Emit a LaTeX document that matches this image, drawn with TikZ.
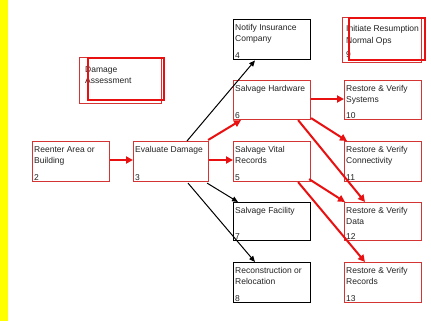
\documentclass[tikz,border=0pt]{standalone}
\usepackage{fontspec}
\setmainfont{Liberation Sans}
\usetikzlibrary{arrows.meta,calc}
\definecolor{ared}{RGB}{232,16,16}
\definecolor{bred}{RGB}{212,52,52}
\definecolor{txt}{RGB}{35,35,35}
\definecolor{ylw}{RGB}{255,255,0}
\begin{document}
\begin{tikzpicture}[x=1pt,y=-1pt,
  rbox/.style={draw=bred, line width=1.1pt, rectangle, inner sep=0pt, anchor=north west, minimum width=77pt, minimum height=39pt},
  kbox/.style={draw=black, line width=1.4pt, rectangle, inner sep=0pt, anchor=north west, minimum width=77pt, minimum height=39pt},
  lab/.style={anchor=north west, inner sep=0pt, align=left, font=\fontsize{8.5}{11.5}\selectfont, text=txt},
  num/.style={anchor=south west, inner sep=0pt, font=\fontsize{8.5}{11.5}\selectfont, text=txt},
  thinframe/.style={draw=bred, line width=0.9pt, rectangle, inner sep=0pt, anchor=north west},
  thickframe/.style={draw=ared, line width=2.2pt, rectangle, inner sep=0pt, anchor=north west},
  rarr/.style={draw=ared, line width=2pt, -{Triangle[length=7pt,width=7pt]}},
  karr/.style={draw=black, line width=1pt, -{Triangle[length=6pt,width=5pt]}},
]
\useasboundingbox (0,0) rectangle (431,321);
\fill[white] (0,0) rectangle (431,321);
\fill[ylw] (0,0) rectangle (8,321);

% Damage Assessment
\node[thinframe, minimum width=82pt, minimum height=46pt] (dao) at (79,57) {};
\node[lab] (dat) at (85,66) {Damage\\Assessment};
\node[thickframe, minimum width=76pt, minimum height=42pt] (dai) at (87,57) {};

% Initiate Resumption
\node[thinframe, minimum width=79pt, minimum height=45pt] (n9o) at (342,17) {};
\node[lab] (n9t) at (346,25.5) {Initiate Resumption\\Normal Ops};
\node[num] (n9n) at (346,58) {9};
\node[thickframe, minimum width=76pt, minimum height=42pt] (n9i) at (348,17) {};

% boxes
\node[rbox, minimum height=40pt] (n2) at (32,141) {};
\node[rbox, minimum width=75pt, minimum height=40pt] (n3) at (133,141) {};
\node[kbox, minimum height=40pt] (n4) at (233,19) {};
\node[rbox] (n6) at (233,80) {};
\node[rbox, minimum height=40pt] (n5) at (233,141) {};
\node[kbox, minimum height=38pt] (n7) at (233,202) {};
\node[kbox, minimum height=40pt] (n8) at (233,262) {};
\node[rbox] (n10) at (344,80) {};
\node[rbox, minimum height=40pt] (n11) at (344,141) {};
\node[rbox, minimum height=38pt] (n12) at (344,202) {};
\node[rbox, minimum height=40pt] (n13) at (344,262) {};

% texts
\node[lab] (t2) at ($(n2.north west)+(2,5)$) {Reenter Area or\\Building};
\node[num] (u2) at ($(n2.south west)+(2,-1.5)$) {2};
\node[lab] (t3) at ($(n3.north west)+(2,5)$) {Evaluate Damage};
\node[num] (u3) at ($(n3.south west)+(2,-1.5)$) {3};
\node[lab] (t4) at ($(n4.north west)+(2,5)$) {Notify Insurance\\Company};
\node[num] (u4) at ($(n4.south west)+(2,-1.5)$) {4};
\node[lab] (t6) at ($(n6.north west)+(2,5)$) {Salvage Hardware};
\node[num] (u6) at ($(n6.south west)+(2,-1.5)$) {6};
\node[lab] (t5) at ($(n5.north west)+(2,5)$) {Salvage Vital\\Records};
\node[num] (u5) at ($(n5.south west)+(2,-1.5)$) {5};
\node[lab] (t7) at ($(n7.north west)+(2,5)$) {Salvage Facility};
\node[num] (u7) at ($(n7.south west)+(2,-1.5)$) {7};
\node[lab] (t8) at ($(n8.north west)+(2,5)$) {Reconstruction or\\Relocation};
\node[num] (u8) at ($(n8.south west)+(2,-1.5)$) {8};
\node[lab] (t10) at ($(n10.north west)+(2,5)$) {Restore \& Verify\\Systems};
\node[num] (u10) at ($(n10.south west)+(2,-1.5)$) {10};
\node[lab] (t11) at ($(n11.north west)+(2,5)$) {Restore \& Verify\\Connectivity};
\node[num] (u11) at ($(n11.south west)+(2,-1.5)$) {11};
\node[lab] (t12) at ($(n12.north west)+(2,5)$) {Restore \& Verify\\Data};
\node[num] (u12) at ($(n12.south west)+(2,-1.5)$) {12};
\node[lab] (t13) at ($(n13.north west)+(2,5)$) {Restore \& Verify\\Records};
\node[num] (u13) at ($(n13.south west)+(2,-1.5)$) {13};

% connectors
\draw[rarr] ($(n2.north east)+(0,19)$) -- ($(n3.north west)+(0,19)$);
\draw[karr] ($(n3.north west)+(54,0)$) -- ($(n4.south west)+(22,0)$);
\draw[rarr] ($(n3.north east)+(-1,-1)$) -- ($(n6.south west)+(8,0)$);
\draw[rarr] ($(n3.north east)+(0,19)$) -- ($(n5.north west)+(0,19)$);
\draw[karr] ($(n3.south east)+(-2,1)$) -- ($(n7.north west)+(5,0)$);
\draw[karr] ($(n3.south west)+(55,1)$) -- ($(n8.north west)+(22,0)$);
\draw[rarr] ($(n6.north east)+(0,19)$) -- ($(n10.north west)+(0,19)$);
\draw[rarr] ($(n6.south east)+(0,-2)$) -- ($(n11.north west)+(3,0)$);
\draw[rarr] ($(n6.south east)+(-13,0)$) -- ($(n12.north west)+(21,0)$);
\draw[rarr] ($(n5.south east)+(-2,-3)$) -- ($(n12.north west)+(1,0)$);
\draw[rarr] ($(n5.south east)+(-13,0)$) -- ($(n13.north west)+(21,0)$);
\end{tikzpicture}
\end{document}
